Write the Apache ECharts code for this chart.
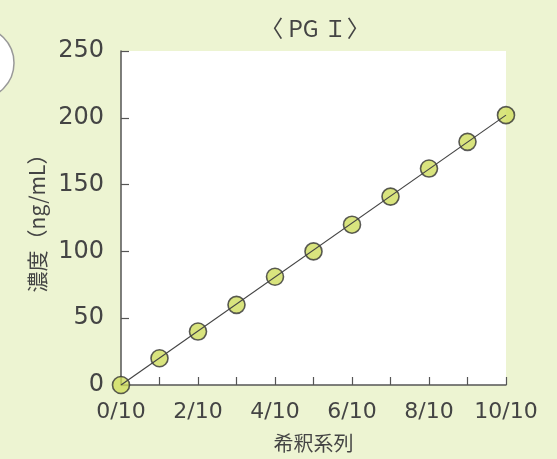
<!DOCTYPE html>
<html>
<head>
<meta charset="utf-8">
<script src="https://cdn.jsdelivr.net/npm/echarts@6/dist/echarts.min.js"></script>
<style>
  html, body { margin: 0; padding: 0; background: #edf4d2; }
  #chart { width: 557px; height: 459px; }
</style>
</head>
<body>
<div id="chart"></div>
<script>
// Dilution steps (x = n/10) and measured concentrations (ng/mL)
const dilutionSteps = [0, 1, 2, 3, 4, 5, 6, 7, 8, 9, 10];
const concentrations = [0, 20, 40, 60, 81, 100, 120, 141, 162, 182, 202];
// Fitted calibration line endpoints
const fitX = [0, 10];
const fitY = [0, 202];
const yTicks = [0, 50, 100, 150, 200, 250];

const points = dilutionSteps.map((x, i) => [x, concentrations[i]]);
const fitLine = fitX.map((x, i) => [x, fitY[i]]);

const chart = echarts.init(document.getElementById('chart'));
const textColor = '#444';
const axisColor = '#555';

chart.setOption({
  backgroundColor: '#edf4d2',
  animation: false,
  title: {
    text: '〈 PG Ｉ〉',
    left: 310,
    textAlign: 'center',
    top: 12,
    textStyle: {
      fontFamily: 'Noto Sans CJK JP',
      fontSize: 23,
      fontWeight: 'normal',
      color: textColor
    }
  },
  graphic: [{
    type: 'circle',
    shape: { cx: -22, cy: 63, r: 36 },
    style: { fill: '#ffffff', stroke: '#999', lineWidth: 1.5 }
  }],
  grid: {
    left: 121, right: 51, top: 51, bottom: 74,
    show: true, backgroundColor: '#ffffff', borderWidth: 0
  },
  xAxis: {
    type: 'value',
    min: 0, max: 10, interval: 1,
    name: '希釈系列',
    nameLocation: 'middle',
    nameGap: 48,
    nameTextStyle: { fontFamily: 'Noto Sans CJK JP', fontSize: 20, color: textColor },
    axisLine: { show: true, lineStyle: { color: axisColor, width: 1.5 } },
    axisTick: { show: true, inside: true, length: 8, lineStyle: { color: axisColor, width: 1.2 } },
    splitLine: { show: false },
    axisLabel: {
      margin: 16,
      fontFamily: 'DejaVu Sans',
      fontSize: 22,
      color: textColor,
      formatter: v => (v % 2 === 0 ? v + '/10' : '')
    }
  },
  yAxis: {
    type: 'value',
    min: yTicks[0], max: yTicks[yTicks.length - 1], interval: 50,
    name: '濃度（ng/mL）',
    nameLocation: 'middle',
    nameGap: 72,
    nameRotate: 90,
    nameTextStyle: { fontFamily: 'Noto Sans CJK JP', fontSize: 21, color: textColor },
    axisLine: { show: true, lineStyle: { color: axisColor, width: 1.5 } },
    axisTick: { show: true, inside: true, length: 8, lineStyle: { color: axisColor, width: 1.2 } },
    splitLine: { show: false },
    axisLabel: {
      margin: 17,
      fontFamily: 'DejaVu Sans',
      fontSize: 24,
      color: textColor
    }
  },
  series: [
    {
      type: 'scatter',
      data: points,
      symbol: 'circle',
      symbolSize: 17,
      z: 2,
      itemStyle: { color: '#cfdd5e', borderColor: '#333', borderWidth: 1.6 }
    },
    {
      type: 'line',
      data: fitLine,
      symbol: 'none',
      z: 3,
      lineStyle: { color: '#444', width: 1.2 }
    }
  ]
});
</script>
</body>
</html>
